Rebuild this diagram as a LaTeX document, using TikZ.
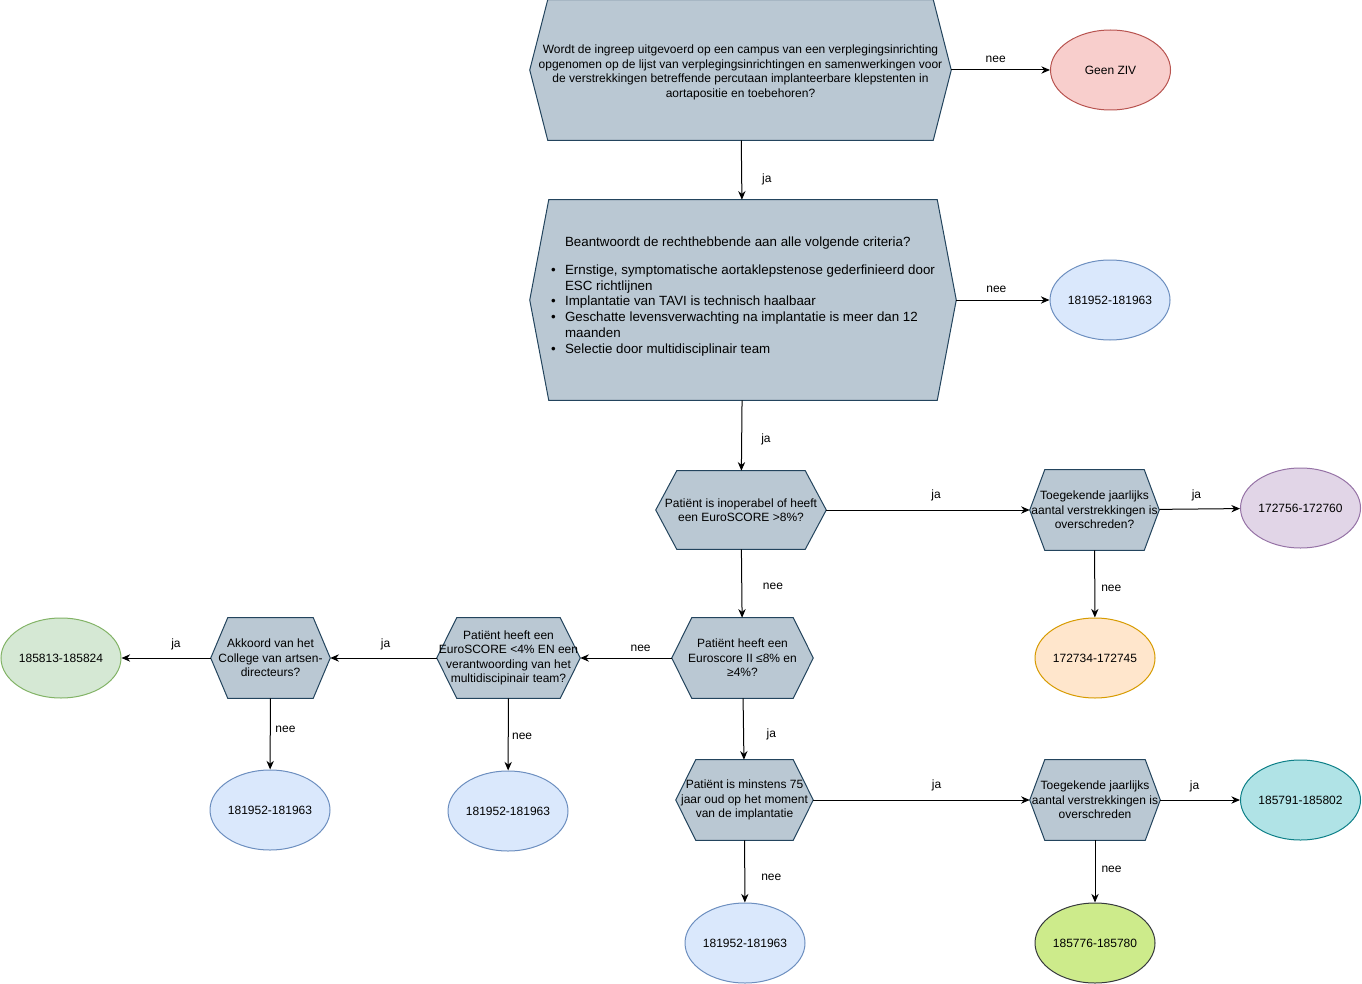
\documentclass[tikz,border=0pt]{standalone}
\usepackage{fontspec}
\setmainfont{Liberation Sans}
\usetikzlibrary{calc,shapes.geometric,arrows.meta,backgrounds}
\definecolor{hexfill}{HTML}{BAC8D3}
\definecolor{hexline}{HTML}{23445D}
\definecolor{redfill}{HTML}{F8CECC}   \definecolor{redline}{HTML}{B85450}
\definecolor{bluefill}{HTML}{DAE8FC}  \definecolor{blueline}{HTML}{6C8EBF}
\definecolor{purpfill}{HTML}{E1D5E7}  \definecolor{purpline}{HTML}{9673A6}
\definecolor{orngfill}{HTML}{FFE6CC}  \definecolor{orngline}{HTML}{D79B00}
\definecolor{grnfill}{HTML}{D5E8D4}   \definecolor{grnline}{HTML}{82B366}
\definecolor{tealfill}{HTML}{B0E3E6}  \definecolor{tealline}{HTML}{0E8088}
\definecolor{limefill}{HTML}{CDEB8B}  \definecolor{limeline}{HTML}{36393D}
\tikzset{
      qbox/.style 2 args = {rectangle, inner sep=0pt, align=center,
        minimum width=#1*0.75pt, minimum height=#2*0.75pt,
        font=\fontsize{9}{10.8}\selectfont},
      hexshape/.style = {fill=hexfill, draw=hexline, line width=0.75pt},
      outcome/.style 2 args = {ellipse, fill=#1, draw=#2, line width=0.75pt,
        minimum width=90pt, minimum height=60pt, inner sep=0pt,
        font=\fontsize{9}{10.8}\selectfont},
      flowedge/.style = {black, line width=0.75pt, -{Stealth[length=6.5pt,width=5.5pt]}},
      lbl/.style = {font=\fontsize{9}{10.8}\selectfont, inner sep=1.5pt},
    }

\begin{document}
\begin{tikzpicture}[x=0.75pt, y=-0.75pt]
        \useasboundingbox (0,0) rectangle (1362,984);

        % vragen
        \node [qbox={421}{140}] (q1) at (740.5,70) {\rule{0pt}{10pt}Wordt de ingreep uitgevoerd op een campus van een verplegingsinrichting\\
          opgenomen op de lijst van verplegingsinrichtingen en samenwerkingen voor\\
          de verstrekkingen betreffende percutaan implanteerbare klepstenten in\\
          aortapositie en toebehoren?};
        \node [qbox={426}{200}, align=left, font=\fontsize{10}{11.8}\selectfont] (q2) at (743,300) {%
          \hspace*{10.5pt}Beantwoordt de rechthebbende aan alle volgende criteria?\\[9.2pt]
          \makebox[10.5pt][l]{\textbullet}Ernstige, symptomatische aortaklepstenose gederfinieerd door\\
          \hspace*{10.5pt}ESC richtlijnen\\
          \makebox[10.5pt][l]{\textbullet}Implantatie van TAVI is technisch haalbaar\\
          \makebox[10.5pt][l]{\textbullet}Geschatte levensverwachting na implantatie is meer dan 12\\
          \hspace*{10.5pt}maanden\\
          \makebox[10.5pt][l]{\textbullet}Selectie door multidisciplinair team\\[-4.3pt]\mbox{}};
        \node [qbox={170}{78}] (q3) at (741,510) {Patiënt is inoperabel of heeft\\een EuroSCORE >8\%?};
        \node [qbox={129}{80}] (t1) at (1094.5,510) {Toegekende jaarlijks\\aantal verstrekkingen is\\overschreden?};
        \node [qbox={141}{80}] (q4) at (742.5,658) {Patiënt heeft een\\Euroscore II ≤8\% en\\≥4\%?};
        \node [qbox={143}{80}] (q5) at (508.5,658) {Patiënt heeft een\\EuroSCORE <4\% EN een\\verantwoording van het\\multidiscipinair team?};
        \node [qbox={119}{80}] (q6) at (270.5,658) {Akkoord van het\\College van artsen-\\directeurs?};
        \node [qbox={137}{80}] (q7) at (744.5,800) {Patiënt is minstens 75\\jaar oud op het moment\\van de implantatie};
        \node [qbox={130}{80}] (t2) at (1095,800) {Toegekende jaarlijks\\aantal verstrekkingen is\\overschreden};

        % zeshoeken achter de tekst
        \begin{scope}[on background layer]
          \foreach \n/\d in {q1/18, q2/19, q3/21, t1/15, q4/20, q5/20, q6/17, q7/20, t2/15}
            \path[hexshape] (\n.west) -- ($(\n.north west)+(\d,0)$) -- ($(\n.north east)+(-\d,0)$)
              -- (\n.east) -- ($(\n.south east)+(-\d,0)$) -- ($(\n.south west)+(\d,0)$) -- cycle;
        \end{scope}

        % uitkomsten
        \node [outcome={redfill}{redline}]   (ziv)  at (1110.5,70)  {Geen ZIV};
        \node [outcome={bluefill}{blueline}] (nA)   at (1110,300)   {181952-181963};
        \node [outcome={purpfill}{purpline}] (c756) at (1300.5,508) {172756-172760};
        \node [outcome={orngfill}{orngline}] (c734) at (1095,658)   {172734-172745};
        \node [outcome={grnfill}{grnline}]   (c813) at (61,658)     {185813-185824};
        \node [outcome={bluefill}{blueline}] (nB)   at (270,810)    {181952-181963};
        \node [outcome={bluefill}{blueline}] (nC)   at (508,811)    {181952-181963};
        \node [outcome={tealfill}{tealline}] (c791) at (1300.5,800) {185791-185802};
        \node [outcome={bluefill}{blueline}] (nD)   at (745,943)    {181952-181963};
        \node [outcome={limefill}{limeline}] (c776) at (1095,943)   {185776-185780};

        \path[flowedge]
        (q1) edge node [lbl, pos=0.65, right, xshift=13.5pt] {ja} (q2)
        (q1) edge node [lbl, pos=0.45, above=4pt] {nee} (ziv)
        (q2) edge node [lbl, pos=0.43, above=4pt] {nee} (nA)
        (q2) edge node [lbl, pos=0.55, right, xshift=12.8pt] {ja} (q3)
        (q3) edge node [lbl, pos=0.54, above=5pt] {ja} (t1)
        (t1) edge node [lbl, pos=0.46, above=4pt] {ja} (c756)
        (t1) edge node [lbl, pos=0.56, right, xshift=3pt] {nee} (c734)
        (q3) edge node [lbl, pos=0.54, right, xshift=14pt] {nee} (q4)
        (q4) edge node [lbl, pos=0.34, above=3pt] {nee} (q5)
        (q5) edge node [lbl, pos=0.48, above=4pt] {ja} (q6)
        (q6) edge node [lbl, pos=0.39, above=4pt] {ja} (c813)
        (q6) edge node [lbl, pos=0.43, right, xshift=2pt] {nee} (nB)
        (q5) edge node [lbl, pos=0.52, right, xshift=1pt] {nee} (nC)
        (q4) edge node [lbl, pos=0.58, right, xshift=15.5pt] {ja} (q7)
        (q7) edge node [lbl, pos=0.57, above=5pt] {ja} (t2)
        (t2) edge node [lbl, pos=0.43, above=4pt] {ja} (c791)
        (t2) edge node [lbl, pos=0.46, right, xshift=3pt] {nee} (c776)
        (q7) edge node [lbl, pos=0.6, right, xshift=10.5pt] {nee} (nD);
    \end{tikzpicture}
\end{document}
